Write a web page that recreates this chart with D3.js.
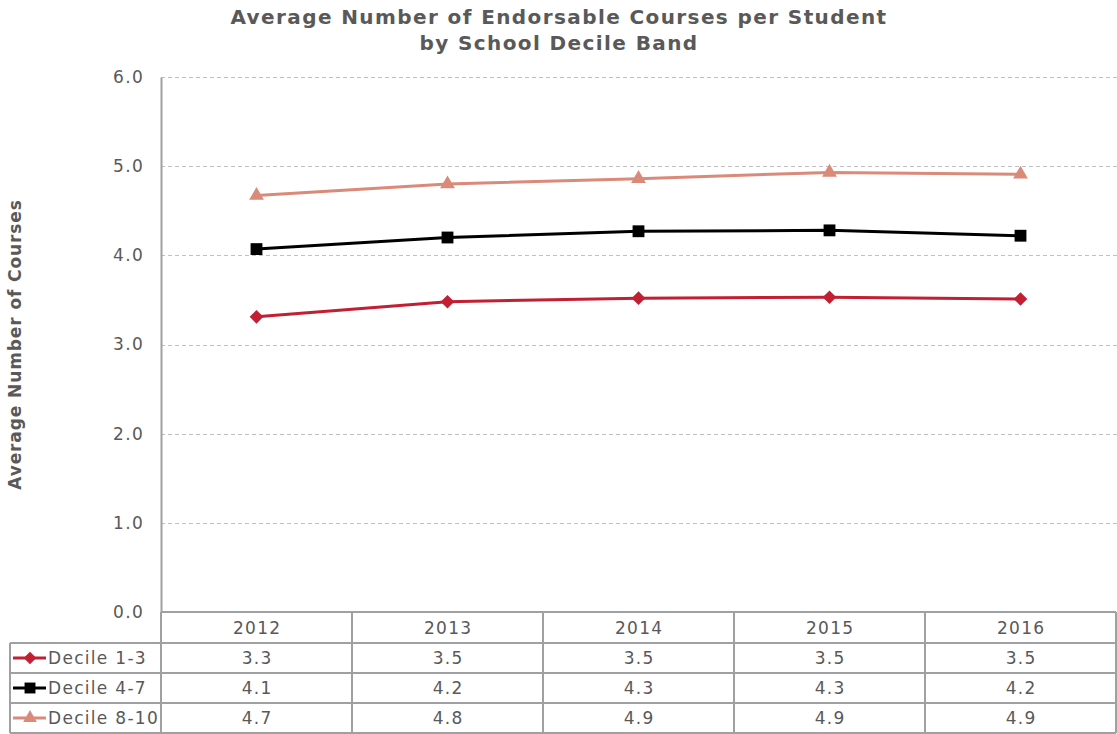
<!DOCTYPE html>
<html>
<head>
<meta charset="utf-8">
<script src="https://cdn.jsdelivr.net/npm/d3@7"></script>
<style>
  html, body { margin: 0; padding: 0; background: #fff; }
  svg { display: block; font-family: "DejaVu Sans", Verdana, sans-serif; }
</style>
</head>
<body>
<svg id="chart" width="1117" height="734"></svg>
<script>
const years = ["2012", "2013", "2014", "2015", "2016"];
const decile13 = [3.31, 3.48, 3.52, 3.53, 3.51];
const decile47 = [4.07, 4.20, 4.27, 4.28, 4.22];
const decile810 = [4.67, 4.80, 4.86, 4.93, 4.91];
const seriesNames = ["Decile 1-3", "Decile 4-7", "Decile 8-10"];
const yTicks = [0, 1, 2, 3, 4, 5, 6];
const titleLines = ["Average Number of Endorsable Courses per Student", "by School Decile Band"];
const yTitle = "Average Number of Courses";

(function () {
const series = [
  { name: seriesNames[0], values: decile13, color: "#c21f32", symbol: d3.symbolDiamond2 || d3.symbolDiamond, size: 118 },
  { name: seriesNames[1], values: decile47, color: "#000000", symbol: d3.symbolSquare, size: 140 },
  { name: seriesNames[2], values: decile810, color: "#da8a79", symbol: d3.symbolTriangle, size: 95 }
];

const svg = d3.select("#chart");
const pLeft = 161, pRight = 1116, pTop = 77, pBottom = 612;
const textColor = "#595959";
const borderColor = "#a0a0a3";
const ls = 1.3;

const x = d3.scaleBand().domain(years).range([pLeft, pRight]);
const y = d3.scaleLinear().domain([0, 6]).range([pBottom, pTop]);

// title
const title = svg.append("text").attr("text-anchor", "middle")
  .attr("font-weight", "bold").attr("font-size", 20).attr("letter-spacing", 1.4).attr("fill", textColor);
titleLines.forEach((t, i) => {
  title.append("tspan").attr("x", 559).attr("y", 24 + i * 26).text(t);
});

// y axis title
svg.append("text")
  .attr("transform", `translate(21,${(pTop + pBottom) / 2}) rotate(-90)`)
  .attr("text-anchor", "middle").attr("font-weight", "bold")
  .attr("font-size", 17).attr("letter-spacing", 0.9).attr("fill", textColor).text(yTitle);

// gridlines
svg.append("g").selectAll("line").data(yTicks.filter(d => d > 0)).join("line")
  .attr("x1", pLeft).attr("x2", 1117)
  .attr("y1", d => Math.round(y(d)) + 0.5).attr("y2", d => Math.round(y(d)) + 0.5)
  .attr("stroke", "#c0c0c0").attr("stroke-width", 1).attr("stroke-dasharray", "4,3");

// y axis
const yAxis = d3.axisLeft(y).tickValues(yTicks).tickFormat(d3.format(".1f")).tickSize(0).tickPadding(17);
const gy = svg.append("g").attr("transform", `translate(${pLeft},0)`).call(yAxis);
gy.select(".domain").attr("stroke", borderColor).attr("stroke-width", 2);
gy.selectAll("text").attr("font-size", 17).attr("letter-spacing", ls).attr("fill", textColor)
  .attr("font-family", "DejaVu Sans, Verdana, sans-serif");

// x axis line (top of table)
svg.append("line").attr("x1", pLeft).attr("x2", pRight)
  .attr("y1", pBottom).attr("y2", pBottom).attr("stroke", borderColor).attr("stroke-width", 2);

// lines
const line = d3.line().x((d, i) => x(years[i]) + x.bandwidth() / 2).y(d => y(d));
series.forEach(s => {
  svg.append("path").datum(s.values).attr("d", line)
    .attr("fill", "none").attr("stroke", s.color).attr("stroke-width", 3);
  svg.append("g").selectAll("path").data(s.values).join("path")
    .attr("d", d3.symbol().type(s.symbol).size(s.size))
    .attr("transform", (d, i) => `translate(${x(years[i]) + x.bandwidth() / 2},${y(d)})`)
    .attr("fill", s.color);
});

// data table
const rowY = [pBottom, 643, 673, 703, 733];
const tableLeft = 10;
const tg = svg.append("g");
tg.selectAll("line.h").data(rowY.slice(1)).join("line")
  .attr("x1", tableLeft).attr("x2", pRight)
  .attr("y1", d => d).attr("y2", d => d)
  .attr("stroke", borderColor).attr("stroke-width", 2);
const vx = years.map(yr => x(yr)).concat([pRight]);
tg.selectAll("line.v").data(vx).join("line")
  .attr("x1", d => d).attr("x2", d => d)
  .attr("y1", pBottom).attr("y2", 733)
  .attr("stroke", borderColor).attr("stroke-width", 2);
tg.append("line").attr("x1", tableLeft).attr("x2", tableLeft)
  .attr("y1", 643).attr("y2", 733).attr("stroke", borderColor).attr("stroke-width", 2);

tg.selectAll("text.yr").data(years).join("text")
  .attr("x", d => x(d) + x.bandwidth() / 2 + ls / 2).attr("y", (rowY[0] + rowY[1]) / 2 + 6)
  .attr("text-anchor", "middle").attr("font-size", 17).attr("letter-spacing", ls)
  .attr("fill", textColor).text(d => d);

const fmt = d3.format(".1f");
series.forEach((s, r) => {
  const cy = (rowY[r + 1] + rowY[r + 2]) / 2;
  tg.append("line").attr("x1", 13).attr("x2", 46).attr("y1", cy).attr("y2", cy)
    .attr("stroke", s.color).attr("stroke-width", 3);
  tg.append("path").attr("d", d3.symbol().type(s.symbol).size(s.size * 0.85))
    .attr("transform", `translate(30,${cy})`).attr("fill", s.color);
  tg.append("text").attr("x", 48).attr("y", cy + 6).attr("font-size", 17).attr("letter-spacing", ls)
    .attr("fill", textColor).text(s.name);
  tg.selectAll(null).data(s.values).join("text")
    .attr("x", (d, i) => x(years[i]) + x.bandwidth() / 2 + ls / 2).attr("y", cy + 6)
    .attr("text-anchor", "middle").attr("font-size", 17).attr("letter-spacing", ls)
    .attr("fill", textColor).text(d => fmt(d));
});
})();
</script>
</body>
</html>
